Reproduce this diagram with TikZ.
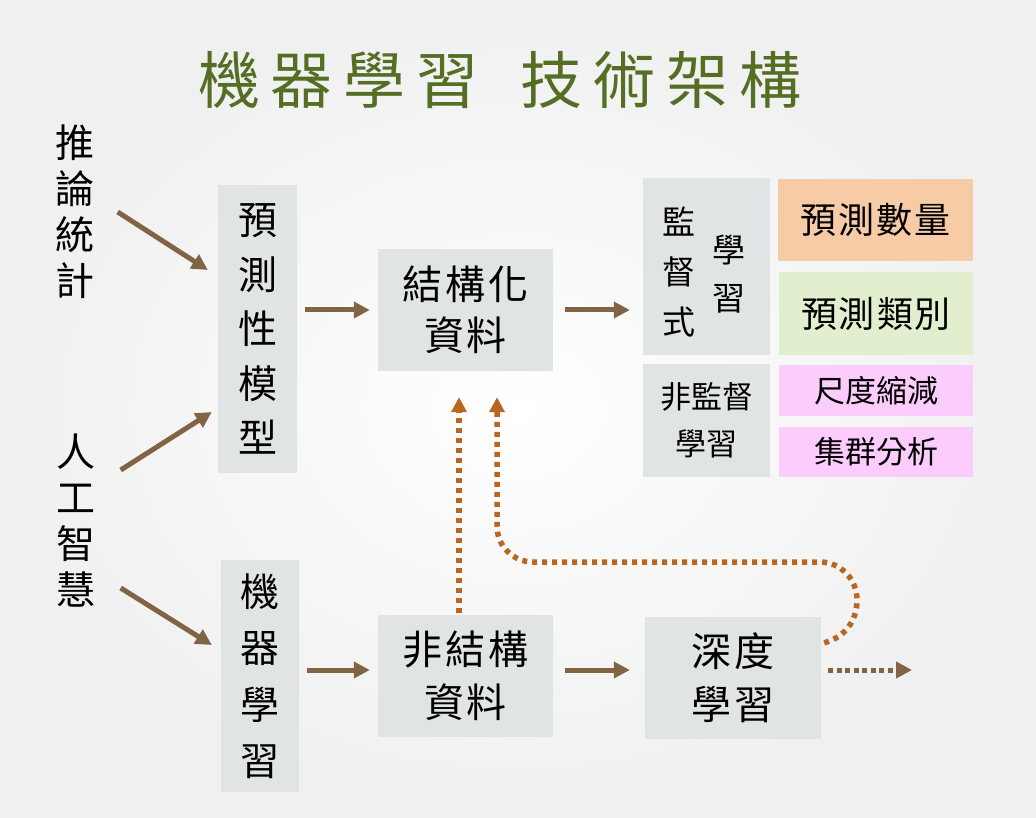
\documentclass[tikz,border=0pt]{standalone}
\usepackage{fontspec}
\newfontfamily\cjk{Noto Sans CJK TC}
\usetikzlibrary{arrows.meta,positioning}
\definecolor{boxgray}{RGB}{224,228,229}
\definecolor{arrbrown}{RGB}{128,100,68}
\definecolor{dotorange}{RGB}{185,102,32}
\definecolor{titlegreen}{RGB}{84,110,36}
\definecolor{peach}{RGB}{246,203,166}
\definecolor{lightgreen}{RGB}{226,239,206}
\definecolor{lightpink}{RGB}{252,204,252}
\tikzset{
  lbl/.style={inner sep=0pt, align=center},
  box/.style={fill=boxgray, inner sep=0pt, align=center},
  arr/.style={draw=arrbrown, line width=5pt, -{Triangle[length=16pt,width=16pt]}},
  dotarr/.style={draw=dotorange, line width=5.5pt, dash pattern=on 5pt off 5pt,
    -{Triangle[length=15pt,width=15pt]}},
  dotbrown/.style={draw=arrbrown, line width=5pt, dash pattern=on 5pt off 3.5pt,
    -{Triangle[length=16pt,width=16pt]}}
}
\begin{document}
\begin{tikzpicture}[x=1pt,y=-1pt]
  \shade[inner color=white, outer color=gray!12] (0,0) rectangle (1036,818);
  \useasboundingbox (0,0) rectangle (1036,818);
  % title
  \node[lbl, font=\cjk\fontsize{62}{62}\selectfont, text=titlegreen] (title) at (500,80)
    {機\hspace{11pt}器\hspace{11pt}學\hspace{11pt}習\hspace{42pt}技\hspace{11pt}術\hspace{11pt}架\hspace{11pt}構};
  % left column
  \node[lbl, font=\cjk\fontsize{39}{46}\selectfont] (stat) at (75,212) {推\\論\\統\\計};
  \node[lbl, font=\cjk\fontsize{39}{46}\selectfont] (ai) at (76,521) {人\\工\\智\\慧};
  \node[box, minimum width=79, minimum height=288, font=\cjk\fontsize{39}{54.5}\selectfont] (pred) at (257.5,329) {預\\測\\性\\模\\型};
  \node[box, minimum width=78, minimum height=232, font=\cjk\fontsize{39}{56.5}\selectfont] (ml) at (260,676) {機\\器\\學\\習};
  % data
  \node[box, minimum width=175, minimum height=122, font=\cjk\fontsize{40}{51}\selectfont] (struct) at (465.5,310) {結\hspace{3pt}構\hspace{3pt}化\\資\hspace{3pt}料};
  \node[box, minimum width=175, minimum height=122, font=\cjk\fontsize{40}{53}\selectfont] (unstr) at (465.5,676) {非\hspace{3pt}結\hspace{3pt}構\\資\hspace{3pt}料};
  \node[box, minimum width=176, minimum height=122, font=\cjk\fontsize{40}{53}\selectfont] (deep) at (733,678) {深\hspace{3pt}度\\學\hspace{3pt}習};
  % learning types
  \node[box, minimum width=127, minimum height=177] (sup) at (706.5,266.5) {};
  \node[lbl, font=\cjk\fontsize{33}{50}\selectfont] (supa) at (679,272) {監\\督\\式};
  \node[lbl, font=\cjk\fontsize{33}{48}\selectfont] (supb) at (729,274) {學\\習};
  \node[box, minimum width=127, minimum height=113, font=\cjk\fontsize{31}{47}\selectfont] (unsup) at (706.5,420.5) {非監督\\學習};
  \node[box, fill=peach, minimum width=195, minimum height=82, font=\cjk\fontsize{36}{36}\selectfont] (num) at (875.5,220) {預\hspace{2pt}測\hspace{2pt}數\hspace{2pt}量};
  \node[box, fill=lightgreen, minimum width=194, minimum height=83, font=\cjk\fontsize{36}{36}\selectfont] (cls) at (876,313.5) {預\hspace{2pt}測\hspace{2pt}類\hspace{2pt}別};
  \node[box, fill=lightpink, minimum width=194, minimum height=51, font=\cjk\fontsize{31}{31}\selectfont] (dim) at (876,390.5) {尺度縮減};
  \node[box, fill=lightpink, minimum width=194, minimum height=50, font=\cjk\fontsize{31}{31}\selectfont] (clu) at (876,452) {集群分析};
  % arrows
  \draw[arr] ([xshift=23pt]stat.east) -- ([xshift=-10pt,yshift=59pt]pred.west);
  \draw[arr] ([xshift=25pt,yshift=51pt]ai.east) -- ([xshift=-6pt,yshift=-83pt]pred.west);
  \draw[arr] ([xshift=25pt,yshift=-67pt]ai.east) -- ([xshift=-9pt,yshift=31pt]ml.west);
  \draw[arr, shorten <=8pt, shorten >=8pt] (pred.east |- struct.west) -- (struct.west);
  \draw[arr, shorten <=12pt, shorten >=13pt] (struct.east) -- (struct.east -| sup.west);
  \draw[arr, shorten <=8pt, shorten >=8pt] ([yshift=6pt]ml.east |- unstr.west) -- ([yshift=6pt]unstr.west);
  \draw[arr, shorten <=12pt, shorten >=15pt] ([yshift=6pt]unstr.east) -- ([yshift=6pt]unstr.east -| deep.west);
  % dotted feedback
  \coordinate (loop) at (857,600);
  \coordinate (bend) at (497,562);
  \coordinate (next) at (912,670);
  \draw[dotarr, shorten <=2pt, shorten >=26pt] ([xshift=-6.5pt]unstr.north) -- ([xshift=-6.5pt]struct.south);
  \draw[dotarr, shorten >=26pt] ([xshift=3pt,yshift=-26pt]deep.north east)
    to[out=15,in=-90] (loop) to[out=90,in=0] ([xshift=-37pt]loop |- bend) -- ([xshift=36pt]bend)
    to[out=180,in=-90] ([yshift=36pt]bend) -- ([xshift=31.5pt]struct.south);
  \draw[dotbrown, shorten <=7pt] ([yshift=8pt]deep.east) -- (next);
\end{tikzpicture}
\end{document}
